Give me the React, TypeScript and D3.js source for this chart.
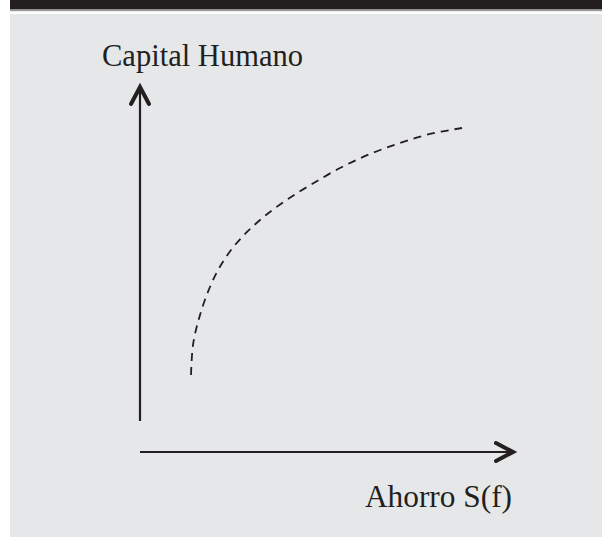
import React from "react";
import * as d3 from "d3";

// Curve: savings (x) vs human capital (y), in axis units 0..100
const savings = [13.6, 14.13, 15.47, 17.6, 20.53, 24.27, 28.53, 33.6, 39.47, 45.87, 53.33, 61.33, 69.33, 77.33, 85.87];
const humanCapital = [20.98, 29.16, 35.42, 42.23, 49.05, 55.04, 59.95, 64.58, 68.94, 73.02, 77.38, 81.2, 84.2, 86.65, 88.28];

const yAxisLabel = "Capital Humano";
const xAxisLabel = "Ahorro S(f)";

const W = 602;
const H = 537;
const INK = "#231f20";
const PANEL = "#e6e7e8";

export default function App() {
  const x = d3.scaleLinear().domain([0, 100]).range([140, 515]);
  const y = d3.scaleLinear().domain([0, 100]).range([452, 85]);

  const pts: [number, number][] = savings.map((s, i) => [x(s), y(humanCapital[i])]);
  const line = d3.line().curve(d3.curveCatmullRom.alpha(0.5));
  const curvePath = line(pts) || "";

  const x0 = x(0);
  const y0 = y(0);
  const xEnd = x(100);
  const yEnd = y(100);

  return (
    <svg
      width={W}
      height={H}
      style={{ position: "fixed", top: 0, left: 0, display: "block" }}
      fontFamily="'Liberation Serif', 'DejaVu Serif', serif"
    >
      <rect x={0} y={0} width={W} height={H} fill="#ffffff" />
      {/* header band */}
      <rect x={10} y={0} width={W - 10} height={9.5} fill={INK} />
      <rect x={10} y={10} width={W - 10} height={1.2} fill="#9a9a9a" />
      {/* panel */}
      <rect x={10} y={14} width={W - 10} height={H - 14} fill={PANEL} />

      {/* vertical axis */}
      <line x1={x0} y1={421} x2={x0} y2={yEnd + 1} stroke={INK} strokeWidth={2.2} />
      <polyline
        points={`${x0 - 9},${yEnd + 19} ${x0},${yEnd + 2} ${x0 + 9},${yEnd + 19}`}
        fill="none"
        stroke={INK}
        strokeWidth={4}
        strokeLinecap="round"
        strokeLinejoin="miter"
      />

      {/* horizontal axis */}
      <line x1={x0} y1={y0} x2={xEnd - 1} y2={y0} stroke={INK} strokeWidth={2.2} />
      <polyline
        points={`${xEnd - 19},${y0 - 9} ${xEnd - 2},${y0} ${xEnd - 19},${y0 + 9}`}
        fill="none"
        stroke={INK}
        strokeWidth={4}
        strokeLinecap="round"
        strokeLinejoin="miter"
      />

      {/* dashed curve */}
      <path d={curvePath} fill="none" stroke={INK} strokeWidth={1.8} strokeDasharray="8 6" />

      {/* axis titles */}
      <text x={102} y={66} fontSize={32} fill={INK} textLength={201} lengthAdjust="spacingAndGlyphs">
        {yAxisLabel}
      </text>
      <text x={365} y={507} fontSize={32} fill={INK} textLength={147} lengthAdjust="spacingAndGlyphs">
        {xAxisLabel}
      </text>
    </svg>
  );
}
